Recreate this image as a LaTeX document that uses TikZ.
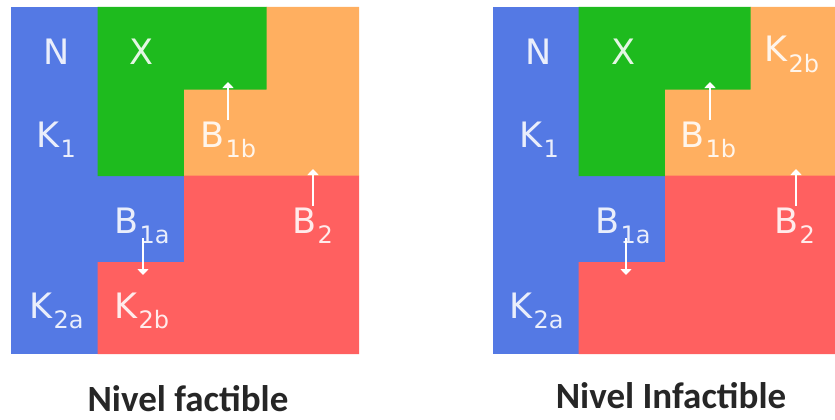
\documentclass[tikz,border=0pt]{standalone}
\usepackage{fontspec}
\setmainfont{DejaVu Sans}
\newfontfamily\capfont{Carlito}
\usetikzlibrary{arrows.meta}
\definecolor{cblue}{RGB}{84,121,228}
\definecolor{cgreen}{RGB}{30,187,30}
\definecolor{corange}{RGB}{255,175,96}
\definecolor{cred}{RGB}{255,96,96}
\newcommand{\Lb}[2]{#1\hspace{1.5pt}\raisebox{-10pt}{\fontsize{24}{24}\selectfont #2}}
\tikzset{
  lbl/.style={anchor=base west, inner sep=0pt, text=white, text opacity=0.88, font=\fontsize{35}{35}\selectfont},
  arr/.style={draw=white, line width=2.6pt, -{Triangle[length=6pt,width=11pt]}},
  capt/.style={anchor=base, inner sep=0pt, text depth=0pt, text=black!85, font=\capfont\bfseries\fontsize{37}{37}\selectfont}
}
\begin{document}
\begin{tikzpicture}[x=1pt,y=-1pt]
\useasboundingbox (0,0) rectangle (835,420);
% left panel
\fill[cblue] (11,7) rectangle (98,354);
\fill[cblue] (97.5,176) rectangle (184.5,262);
\fill[cgreen] (97.5,7) -- (267,7) -- (267,90) -- (184,90) -- (184,176) -- (97.5,176) -- cycle;
\fill[corange] (266.5,7) -- (359,7) -- (359,176) -- (184,176) -- (184,89.5) -- (266.5,89.5) -- cycle;
\fill[cred] (184,175.5) -- (359,175.5) -- (359,354) -- (97.5,354) -- (97.5,262) -- (184,262) -- cycle;
% right panel
\fill[cblue] (493,7) rectangle (579,354);
\fill[cblue] (578.5,176) rectangle (665.5,262);
\fill[cgreen] (578.5,7) -- (751,7) -- (751,90) -- (665,90) -- (665,176) -- (578.5,176) -- cycle;
\fill[corange] (750.5,7) -- (835,7) -- (835,176) -- (665,176) -- (665,89.5) -- (750.5,89.5) -- cycle;
\fill[cred] (665,175.5) -- (835,175.5) -- (835,354) -- (578.5,354) -- (578.5,262) -- (665,262) -- cycle;
% left labels
\node[lbl] (lN) at (43,65) {N};
\node[lbl] (lX) at (129,65) {X};
\node[lbl] (lK1) at (36,147) {\Lb{K}{1}};
\node[lbl] (lB1b) at (200,147) {\Lb{B}{1b}};
\node[lbl] (lB1a) at (114,233) {\Lb{B}{1a}};
\node[lbl] (lB2) at (292,233) {\Lb{B}{2}};
\node[lbl] (lK2a) at (29,318) {\Lb{K}{2a}};
\node[lbl] (lK2b) at (114,318) {\Lb{K}{2b}};
% right labels
\node[lbl] (rN) at (525,65) {N};
\node[lbl] (rX) at (611,65) {X};
\node[lbl] (rK2b) at (764,62) {\Lb{K}{2b}};
\node[lbl] (rK1) at (519,147) {\Lb{K}{1}};
\node[lbl] (rB1b) at (680,147) {\Lb{B}{1b}};
\node[lbl] (rB1a) at (595,233) {\Lb{B}{1a}};
\node[lbl] (rB2) at (774,233) {\Lb{B}{2}};
\node[lbl] (rK2a) at (509,318) {\Lb{K}{2a}};
% arrows
\coordinate (la1s) at (228,120); \coordinate (la1e) at (228,82);
\coordinate (la2s) at (143,238); \coordinate (la2e) at (143,275);
\coordinate (la3s) at (313,206); \coordinate (la3e) at (313,169);
\coordinate (ra1s) at (710,120); \coordinate (ra1e) at (710,82);
\coordinate (ra2s) at (626,238); \coordinate (ra2e) at (626,275);
\coordinate (ra3s) at (796,206); \coordinate (ra3e) at (796,169);
\draw[arr] (la1s) -- (la1e);
\draw[arr] (la2s) -- (la2e);
\draw[arr] (la3s) -- (la3e);
\draw[arr] (ra1s) -- (ra1e);
\draw[arr] (ra2s) -- (ra2e);
\draw[arr] (ra3s) -- (ra3e);
% captions
\node[capt] (capL) at (188,411) {Nivel factible};
\node[capt] (capR) at (671,408) {Nivel Infactible};
\end{tikzpicture}
\end{document}
